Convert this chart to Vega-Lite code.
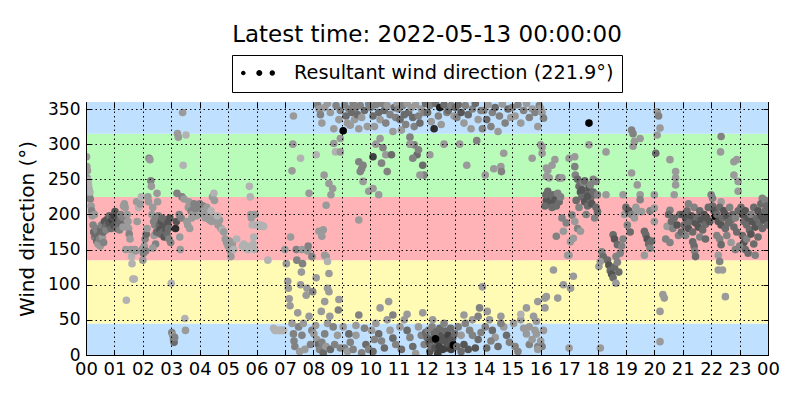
{
  "$schema": "https://vega.github.io/schema/vega-lite/v6.json",
  "width": 682,
  "height": 253,
  "autosize": "none",
  "padding": {"left": 86, "top": 102, "right": 32, "bottom": 45},
  "title": {
    "text": "Latest time: 2022-05-13 00:00:00",
    "fontSize": 23,
    "fontWeight": "normal",
    "anchor": "middle",
    "frame": "group",
    "baseline": "alphabetic",
    "offset": 12,
    "dy": 22,
    "color": "black"
  },
  "datasets": {
    "bands": [
      {"lo": 0, "hi": 45, "sector": "N"},
      {"lo": 45, "hi": 135, "sector": "E"},
      {"lo": 135, "hi": 225, "sector": "S"},
      {"lo": 225, "hi": 315, "sector": "W"},
      {"lo": 315, "hi": 360, "sector": "N"}
    ],
    "wind": [
      {"h":0.02,"d":282,"s":3},{"h":0.03,"d":268,"s":3},{"h":0.05,"d":262,"s":3},{"h":0.04,"d":252,"s":3},{"h":0.08,"d":248,"s":2},{"h":0.1,"d":236,"s":3},{"h":0.12,"d":228,"s":3},{"h":0.15,"d":222,"s":4},{"h":0.18,"d":212,"s":3},{"h":0.2,"d":205,"s":4},{"h":0.22,"d":198,"s":3},{"h":0.25,"d":185,"s":4},{"h":0.27,"d":175,"s":5},{"h":0.3,"d":168,"s":4},{"h":0.32,"d":172,"s":5},{"h":0.35,"d":180,"s":4},{"h":0.38,"d":162,"s":5},{"h":0.4,"d":176,"s":4},{"h":0.42,"d":158,"s":3},{"h":0.45,"d":170,"s":5},{"h":0.48,"d":165,"s":4},{"h":0.5,"d":155,"s":3},{"h":0.52,"d":178,"s":5},{"h":0.55,"d":185,"s":4},{"h":0.58,"d":168,"s":3},{"h":0.6,"d":175,"s":5},{"h":0.62,"d":160,"s":4},{"h":0.65,"d":190,"s":6},{"h":0.68,"d":182,"s":5},{"h":0.7,"d":178,"s":4},{"h":0.72,"d":192,"s":6},{"h":0.75,"d":186,"s":5},{"h":0.78,"d":194,"s":6},{"h":0.8,"d":190,"s":6},{"h":0.82,"d":198,"s":5},{"h":0.85,"d":185,"s":6},{"h":0.88,"d":180,"s":5},{"h":0.9,"d":188,"s":6},{"h":0.92,"d":192,"s":7},{"h":0.95,"d":196,"s":6},{"h":0.98,"d":184,"s":6},{"h":0.3,"d":200,"s":3},{"h":0.14,"d":232,"s":2},{"h":0.09,"d":242,"s":2},
      {"h":1.0,"d":198,"s":7},{"h":1.02,"d":204,"s":6},{"h":1.05,"d":188,"s":6},{"h":1.08,"d":180,"s":5},{"h":1.1,"d":190,"s":6},{"h":1.12,"d":195,"s":6},{"h":1.15,"d":186,"s":5},{"h":1.18,"d":178,"s":4},{"h":1.2,"d":192,"s":5},{"h":1.22,"d":200,"s":4},{"h":1.25,"d":185,"s":5},{"h":1.28,"d":196,"s":4},{"h":1.3,"d":182,"s":3},{"h":1.32,"d":212,"s":3},{"h":1.35,"d":215,"s":3},{"h":1.38,"d":210,"s":3},{"h":1.4,"d":150,"s":3},{"h":1.42,"d":78,"s":2},{"h":1.45,"d":200,"s":3},{"h":1.48,"d":190,"s":3},{"h":1.5,"d":180,"s":3},{"h":1.52,"d":172,"s":4},{"h":1.55,"d":165,"s":3},{"h":1.58,"d":150,"s":3},{"h":1.6,"d":140,"s":2},{"h":1.62,"d":130,"s":2},{"h":1.65,"d":108,"s":2},{"h":1.7,"d":108,"s":2},{"h":1.72,"d":150,"s":3},{"h":1.75,"d":148,"s":3},{"h":1.78,"d":218,"s":3},{"h":1.8,"d":190,"s":3},{"h":1.85,"d":210,"s":2},{"h":1.9,"d":215,"s":3},{"h":1.95,"d":225,"s":2},{"h":1.98,"d":150,"s":3},
      {"h":2.0,"d":135,"s":3},{"h":2.02,"d":145,"s":4},{"h":2.05,"d":155,"s":3},{"h":2.08,"d":165,"s":4},{"h":2.1,"d":148,"s":4},{"h":2.12,"d":172,"s":5},{"h":2.15,"d":180,"s":3},{"h":2.18,"d":225,"s":3},{"h":2.2,"d":218,"s":3},{"h":2.22,"d":280,"s":4},{"h":2.25,"d":278,"s":3},{"h":2.28,"d":248,"s":4},{"h":2.3,"d":240,"s":3},{"h":2.32,"d":200,"s":3},{"h":2.35,"d":210,"s":3},{"h":2.38,"d":190,"s":4},{"h":2.4,"d":170,"s":3},{"h":2.42,"d":185,"s":4},{"h":2.45,"d":195,"s":4},{"h":2.48,"d":175,"s":5},{"h":2.5,"d":230,"s":3},{"h":2.52,"d":218,"s":3},{"h":2.55,"d":198,"s":4},{"h":2.58,"d":185,"s":5},{"h":2.6,"d":178,"s":6},{"h":2.62,"d":172,"s":5},{"h":2.65,"d":190,"s":6},{"h":2.68,"d":195,"s":5},{"h":2.7,"d":182,"s":6},{"h":2.72,"d":175,"s":5},{"h":2.75,"d":168,"s":6},{"h":2.78,"d":185,"s":6},{"h":2.8,"d":192,"s":5},{"h":2.82,"d":178,"s":6},{"h":2.85,"d":172,"s":5},{"h":2.88,"d":188,"s":6},{"h":2.9,"d":180,"s":5},{"h":2.92,"d":165,"s":4},{"h":2.95,"d":195,"s":6},{"h":2.98,"d":160,"s":4},{"h":2.45,"d":158,"s":4},{"h":2.35,"d":152,"s":3},
      {"h":3.0,"d":102,"s":2},{"h":3.02,"d":32,"s":4},{"h":3.05,"d":28,"s":3},{"h":3.08,"d":22,"s":4},{"h":3.1,"d":18,"s":5},{"h":3.12,"d":25,"s":4},{"h":3.15,"d":180,"s":8},{"h":3.18,"d":190,"s":6},{"h":3.2,"d":230,"s":4},{"h":3.22,"d":315,"s":3},{"h":3.25,"d":310,"s":3},{"h":3.28,"d":200,"s":4},{"h":3.3,"d":168,"s":3},{"h":3.32,"d":150,"s":3},{"h":3.35,"d":195,"s":4},{"h":3.38,"d":225,"s":4},{"h":3.4,"d":345,"s":3},{"h":3.42,"d":270,"s":2},{"h":3.45,"d":222,"s":3},{"h":3.48,"d":52,"s":2},{"h":3.5,"d":35,"s":3},{"h":3.52,"d":313,"s":2},{"h":3.55,"d":190,"s":3},{"h":3.58,"d":185,"s":3},{"h":3.6,"d":210,"s":3},{"h":3.62,"d":218,"s":3},{"h":3.65,"d":180,"s":3},{"h":3.7,"d":205,"s":4},{"h":3.72,"d":195,"s":3},{"h":3.75,"d":200,"s":3},{"h":3.8,"d":215,"s":4},{"h":3.85,"d":208,"s":4},{"h":3.9,"d":198,"s":3},{"h":3.95,"d":210,"s":4},
      {"h":4.0,"d":215,"s":4},{"h":4.05,"d":208,"s":4},{"h":4.1,"d":200,"s":3},{"h":4.12,"d":212,"s":4},{"h":4.15,"d":205,"s":3},{"h":4.2,"d":195,"s":3},{"h":4.25,"d":210,"s":3},{"h":4.3,"d":200,"s":3},{"h":4.35,"d":192,"s":3},{"h":4.4,"d":205,"s":2},{"h":4.45,"d":225,"s":3},{"h":4.5,"d":230,"s":2},{"h":4.52,"d":220,"s":3},{"h":4.55,"d":195,"s":3},{"h":4.6,"d":190,"s":3},{"h":4.65,"d":185,"s":3},{"h":4.7,"d":192,"s":3},{"h":4.75,"d":180,"s":3},{"h":4.8,"d":178,"s":2},{"h":4.85,"d":175,"s":3},{"h":4.9,"d":165,"s":3},{"h":4.95,"d":160,"s":3},{"h":4.42,"d":190,"s":3},{"h":4.62,"d":198,"s":2},
      {"h":5.0,"d":155,"s":3},{"h":5.05,"d":162,"s":3},{"h":5.08,"d":148,"s":3},{"h":5.1,"d":140,"s":3},{"h":5.15,"d":158,"s":3},{"h":5.2,"d":150,"s":2},{"h":5.3,"d":165,"s":2},{"h":5.5,"d":155,"s":2},{"h":5.55,"d":158,"s":2},{"h":5.6,"d":152,"s":2},{"h":5.65,"d":155,"s":2},{"h":5.7,"d":150,"s":2},{"h":5.75,"d":240,"s":2},{"h":5.78,"d":225,"s":2},{"h":5.8,"d":200,"s":3},{"h":5.82,"d":195,"s":3},{"h":5.85,"d":185,"s":2},{"h":5.88,"d":158,"s":2},{"h":5.9,"d":168,"s":2},{"h":5.92,"d":150,"s":2},{"h":5.95,"d":200,"s":3},
      {"h":6.0,"d":185,"s":2},{"h":6.05,"d":185,"s":2},{"h":6.1,"d":183,"s":2},{"h":6.15,"d":185,"s":2},{"h":6.2,"d":184,"s":2},{"h":6.25,"d":183,"s":2},{"h":6.4,"d":135,"s":2},{"h":6.6,"d":38,"s":2},{"h":6.65,"d":35,"s":2},{"h":6.7,"d":35,"s":2},{"h":6.75,"d":35,"s":2},{"h":6.8,"d":35,"s":2},{"h":6.85,"d":35,"s":2},{"h":6.9,"d":35,"s":2},{"h":6.95,"d":35,"s":2},
      {"h":7.0,"d":150,"s":3},{"h":7.05,"d":130,"s":3},{"h":7.1,"d":105,"s":3},{"h":7.12,"d":95,"s":3},{"h":7.15,"d":80,"s":3},{"h":7.18,"d":70,"s":3},{"h":7.2,"d":168,"s":3},{"h":7.25,"d":262,"s":3},{"h":7.28,"d":300,"s":3},{"h":7.3,"d":340,"s":3},{"h":7.32,"d":20,"s":4},{"h":7.35,"d":12,"s":4},{"h":7.4,"d":150,"s":4},{"h":7.42,"d":135,"s":4},{"h":7.45,"d":60,"s":3},{"h":7.48,"d":40,"s":4},{"h":7.52,"d":5,"s":3},{"h":7.55,"d":100,"s":3},{"h":7.58,"d":118,"s":3},{"h":7.6,"d":150,"s":3},{"h":7.62,"d":130,"s":4},{"h":7.65,"d":45,"s":3},{"h":7.7,"d":8,"s":3},{"h":7.75,"d":85,"s":3},{"h":7.78,"d":95,"s":3},{"h":7.8,"d":148,"s":3},{"h":7.82,"d":155,"s":4},{"h":7.85,"d":55,"s":3},{"h":7.9,"d":15,"s":4},{"h":7.95,"d":140,"s":4},{"h":7.98,"d":90,"s":4},{"h":7.55,"d":280,"s":2},{"h":7.85,"d":230,"s":3},{"h":7.3,"d":30,"s":4},{"h":7.6,"d":28,"s":4},{"h":7.95,"d":35,"s":4},{"h":7.25,"d":45,"s":3},
      {"h":8.02,"d":30,"s":3},{"h":8.08,"d":42,"s":3},{"h":8.12,"d":22,"s":3},{"h":8.18,"d":15,"s":5},{"h":8.22,"d":8,"s":4},{"h":8.3,"d":18,"s":4},{"h":8.35,"d":3,"s":5},{"h":8.45,"d":12,"s":3},{"h":8.5,"d":45,"s":3},{"h":8.6,"d":8,"s":5},{"h":8.7,"d":40,"s":4},{"h":8.75,"d":15,"s":4},{"h":8.85,"d":28,"s":3},{"h":8.95,"d":10,"s":4},{"h":8.58,"d":55,"s":3},{"h":8.28,"d":62,"s":3},{"h":8.4,"d":30,"s":4},
      {"h":8.1,"d":110,"s":3},{"h":8.2,"d":176,"s":3},{"h":8.35,"d":178,"s":3},{"h":8.3,"d":169,"s":3},{"h":8.4,"d":142,"s":3},{"h":8.45,"d":140,"s":3},{"h":8.5,"d":133,"s":2},{"h":8.55,"d":116,"s":3},{"h":8.5,"d":95,"s":3},{"h":8.55,"d":90,"s":3},{"h":8.4,"d":76,"s":3},{"h":8.88,"d":64,"s":4},{"h":8.45,"d":213,"s":3},{"h":8.38,"d":256,"s":3},{"h":8.55,"d":244,"s":3},{"h":8.68,"d":237,"s":3},{"h":8.62,"d":228,"s":3},{"h":8.1,"d":285,"s":2},{"h":8.72,"d":301,"s":3},{"h":8.72,"d":322,"s":3},{"h":8.78,"d":289,"s":2},
      {"h":8.15,"d":356,"s":4},{"h":8.2,"d":350,"s":3},{"h":8.25,"d":342,"s":4},{"h":8.4,"d":352,"s":3},{"h":8.6,"d":345,"s":3},{"h":8.8,"d":355,"s":4},{"h":8.9,"d":335,"s":3},{"h":8.95,"d":348,"s":4},{"h":8.5,"d":358,"s":3},{"h":8.3,"d":330,"s":3},
      {"h":9.05,"d":40,"s":3},{"h":9.1,"d":10,"s":4},{"h":9.2,"d":5,"s":3},{"h":9.3,"d":18,"s":4},{"h":9.4,"d":8,"s":4},{"h":9.5,"d":42,"s":3},{"h":9.6,"d":57,"s":4},{"h":9.7,"d":3,"s":4},{"h":9.8,"d":38,"s":4},{"h":9.85,"d":15,"s":5},{"h":9.95,"d":8,"s":4},{"h":8.9,"d":79,"s":3},{"h":9.5,"d":28,"s":3},{"h":9.25,"d":30,"s":5},
      {"h":9.05,"d":319,"s":10},{"h":9.1,"d":356,"s":4},{"h":9.15,"d":340,"s":5},{"h":9.2,"d":330,"s":3},{"h":9.25,"d":350,"s":4},{"h":9.3,"d":327,"s":3},{"h":9.35,"d":345,"s":5},{"h":9.4,"d":358,"s":4},{"h":9.45,"d":335,"s":3},{"h":9.5,"d":352,"s":4},{"h":9.55,"d":342,"s":5},{"h":9.6,"d":322,"s":3},{"h":9.65,"d":355,"s":4},{"h":9.7,"d":338,"s":3},{"h":9.8,"d":348,"s":5},{"h":9.9,"d":325,"s":3},{"h":9.95,"d":357,"s":4},{"h":8.95,"d":308,"s":3},
      {"h":8.95,"d":289,"s":3},{"h":9.6,"d":275,"s":4},{"h":9.7,"d":265,"s":4},{"h":9.75,"d":247,"s":3},{"h":9.65,"d":261,"s":4},{"h":9.95,"d":233,"s":3},{"h":10.3,"d":228,"s":3},{"h":10.1,"d":282,"s":7},{"h":9.75,"d":270,"s":4},{"h":9.6,"d":192,"s":3},
      {"h":10.05,"d":35,"s":3},{"h":10.1,"d":5,"s":5},{"h":10.2,"d":45,"s":3},{"h":10.3,"d":30,"s":5},{"h":10.4,"d":20,"s":4},{"h":10.5,"d":10,"s":5},{"h":10.6,"d":50,"s":3},{"h":10.7,"d":35,"s":3},{"h":10.8,"d":24,"s":5},{"h":10.9,"d":15,"s":4},{"h":10.35,"d":67,"s":3},{"h":10.8,"d":57,"s":4},{"h":10.65,"d":76,"s":3},{"h":10.15,"d":22,"s":4},
      {"h":10.02,"d":352,"s":4},{"h":10.1,"d":340,"s":5},{"h":10.15,"d":325,"s":3},{"h":10.2,"d":356,"s":4},{"h":10.3,"d":345,"s":5},{"h":10.35,"d":335,"s":3},{"h":10.4,"d":358,"s":4},{"h":10.5,"d":348,"s":5},{"h":10.55,"d":330,"s":4},{"h":10.6,"d":355,"s":3},{"h":10.7,"d":342,"s":4},{"h":10.8,"d":318,"s":3},{"h":10.85,"d":352,"s":5},{"h":10.9,"d":338,"s":4},{"h":10.95,"d":357,"s":3},
      {"h":10.35,"d":308,"s":3},{"h":10.45,"d":295,"s":4},{"h":10.55,"d":285,"s":3},{"h":10.2,"d":300,"s":3},{"h":10.6,"d":261,"s":4},{"h":10.1,"d":237,"s":3},{"h":10.4,"d":273,"s":4},{"h":10.75,"d":285,"s":5},
      {"h":11.05,"d":40,"s":3},{"h":11.1,"d":8,"s":5},{"h":11.2,"d":50,"s":3},{"h":11.3,"d":35,"s":5},{"h":11.4,"d":25,"s":4},{"h":11.5,"d":12,"s":5},{"h":11.6,"d":2,"s":3},{"h":11.7,"d":40,"s":3},{"h":11.8,"d":28,"s":4},{"h":11.9,"d":15,"s":4},{"h":11.3,"d":58,"s":3},{"h":11.85,"d":60,"s":3},{"h":11.95,"d":32,"s":5},
      {"h":11.0,"d":350,"s":4},{"h":11.05,"d":335,"s":5},{"h":11.1,"d":320,"s":3},{"h":11.15,"d":355,"s":4},{"h":11.2,"d":342,"s":5},{"h":11.25,"d":328,"s":4},{"h":11.3,"d":358,"s":3},{"h":11.35,"d":345,"s":5},{"h":11.4,"d":310,"s":4},{"h":11.45,"d":352,"s":3},{"h":11.5,"d":338,"s":5},{"h":11.55,"d":325,"s":4},{"h":11.6,"d":356,"s":3},{"h":11.7,"d":340,"s":4},{"h":11.75,"d":330,"s":5},{"h":11.8,"d":350,"s":3},{"h":11.9,"d":345,"s":4},{"h":11.95,"d":358,"s":5},
      {"h":11.55,"d":299,"s":4},{"h":11.65,"d":285,"s":5},{"h":11.9,"d":256,"s":4},{"h":11.75,"d":256,"s":3},{"h":11.4,"d":300,"s":3},{"h":11.7,"d":292,"s":4},{"h":11.85,"d":270,"s":5},{"h":11.5,"d":280,"s":4},
      {"h":12.0,"d":25,"s":5},{"h":12.05,"d":35,"s":4},{"h":12.08,"d":18,"s":6},{"h":12.1,"d":5,"s":6},{"h":12.15,"d":12,"s":5},{"h":12.18,"d":40,"s":4},{"h":12.2,"d":22,"s":6},{"h":12.25,"d":30,"s":5},{"h":12.28,"d":10,"s":6},{"h":12.33,"d":33,"s":5},{"h":12.35,"d":20,"s":6},{"h":12.38,"d":2,"s":7},{"h":12.43,"d":12,"s":7},{"h":12.45,"d":38,"s":5},{"h":12.48,"d":22,"s":6},{"h":12.53,"d":28,"s":6},{"h":12.55,"d":8,"s":7},{"h":12.6,"d":20,"s":6},{"h":12.65,"d":34,"s":5},{"h":12.68,"d":10,"s":7},{"h":12.73,"d":16,"s":6},{"h":12.75,"d":28,"s":7},{"h":12.8,"d":20,"s":6},{"h":12.83,"d":38,"s":5},{"h":12.85,"d":8,"s":7},{"h":12.9,"d":24,"s":6},{"h":12.93,"d":14,"s":10},{"h":12.98,"d":30,"s":5},{"h":12.3,"d":23,"s":10},{"h":12.6,"d":45,"s":4},{"h":12.2,"d":50,"s":3},
      {"h":12.02,"d":345,"s":5},{"h":12.1,"d":355,"s":4},{"h":12.15,"d":332,"s":3},{"h":12.25,"d":322,"s":8},{"h":12.3,"d":358,"s":5},{"h":12.4,"d":340,"s":4},{"h":12.45,"d":352,"s":9},{"h":12.5,"d":328,"s":3},{"h":12.6,"d":356,"s":5},{"h":12.7,"d":345,"s":4},{"h":12.75,"d":348,"s":5},{"h":12.85,"d":355,"s":4},{"h":12.95,"d":340,"s":3},{"h":12.1,"d":285,"s":3},{"h":12.6,"d":300,"s":3},
      {"h":13.05,"d":12,"s":5},{"h":13.1,"d":40,"s":4},{"h":13.2,"d":5,"s":5},{"h":13.3,"d":15,"s":6},{"h":13.35,"d":45,"s":4},{"h":13.45,"d":8,"s":6},{"h":13.5,"d":35,"s":4},{"h":13.6,"d":50,"s":3},{"h":13.7,"d":10,"s":6},{"h":13.8,"d":22,"s":5},{"h":13.9,"d":32,"s":4},{"h":13.3,"d":57,"s":3},{"h":13.8,"d":55,"s":4},{"h":13.6,"d":28,"s":4},{"h":13.2,"d":28,"s":3},
      {"h":13.0,"d":352,"s":5},{"h":13.05,"d":338,"s":4},{"h":13.1,"d":356,"s":5},{"h":13.2,"d":345,"s":6},{"h":13.3,"d":330,"s":3},{"h":13.35,"d":355,"s":4},{"h":13.45,"d":342,"s":5},{"h":13.55,"d":322,"s":3},{"h":13.6,"d":350,"s":4},{"h":13.7,"d":358,"s":5},{"h":13.8,"d":335,"s":3},{"h":13.9,"d":348,"s":4},{"h":13.95,"d":322,"s":4},{"h":13.4,"d":270,"s":3},{"h":13.15,"d":300,"s":3},{"h":13.75,"d":305,"s":4},
      {"h":14.05,"d":40,"s":4},{"h":14.1,"d":10,"s":5},{"h":14.2,"d":50,"s":3},{"h":14.3,"d":35,"s":5},{"h":14.4,"d":25,"s":3},{"h":14.5,"d":12,"s":5},{"h":14.6,"d":55,"s":3},{"h":14.7,"d":40,"s":3},{"h":14.8,"d":28,"s":5},{"h":14.9,"d":18,"s":4},{"h":14.12,"d":62,"s":3},{"h":14.6,"d":45,"s":4},{"h":14.25,"d":20,"s":4},
      {"h":14.0,"d":348,"s":4},{"h":14.1,"d":335,"s":5},{"h":14.15,"d":356,"s":3},{"h":14.25,"d":325,"s":4},{"h":14.3,"d":345,"s":4},{"h":14.4,"d":352,"s":5},{"h":14.5,"d":318,"s":3},{"h":14.55,"d":340,"s":4},{"h":14.65,"d":357,"s":3},{"h":14.75,"d":330,"s":4},{"h":14.85,"d":350,"s":5},{"h":14.95,"d":338,"s":3},
      {"h":14.7,"d":287,"s":3},{"h":14.6,"d":268,"s":3},{"h":14.62,"d":261,"s":4},{"h":14.05,"d":256,"s":3},{"h":14.35,"d":265,"s":3},{"h":13.95,"d":97,"s":3},{"h":13.85,"d":67,"s":4},
      {"h":15.05,"d":45,"s":3},{"h":15.1,"d":12,"s":4},{"h":15.2,"d":5,"s":4},{"h":15.3,"d":50,"s":3},{"h":15.4,"d":38,"s":3},{"h":15.5,"d":30,"s":3},{"h":15.6,"d":15,"s":4},{"h":15.7,"d":22,"s":3},{"h":15.8,"d":35,"s":3},{"h":15.9,"d":12,"s":4},{"h":15.5,"d":67,"s":3},{"h":15.3,"d":58,"s":2},{"h":15.85,"d":48,"s":3},
      {"h":15.0,"d":352,"s":4},{"h":15.1,"d":340,"s":3},{"h":15.2,"d":356,"s":4},{"h":15.3,"d":330,"s":3},{"h":15.4,"d":348,"s":4},{"h":15.5,"d":358,"s":3},{"h":15.6,"d":338,"s":4},{"h":15.7,"d":350,"s":3},{"h":15.8,"d":345,"s":4},{"h":15.9,"d":325,"s":3},{"h":15.95,"d":355,"s":4},
      {"h":16.05,"d":296,"s":3},{"h":16.05,"d":287,"s":3},{"h":16.2,"d":266,"s":3},{"h":16.2,"d":254,"s":3},{"h":16.2,"d":83,"s":3},{"h":15.7,"d":280,"s":3},
      {"h":16.0,"d":351,"s":3},{"h":16.05,"d":345,"s":3},{"h":16.1,"d":337,"s":4},{"h":16.0,"d":299,"s":3},{"h":16.5,"d":278,"s":3},{"h":16.4,"d":270,"s":3},{"h":16.25,"d":263,"s":3},{"h":16.3,"d":252,"s":3},{"h":16.65,"d":252,"s":4},{"h":16.75,"d":252,"s":3},{"h":16.25,"d":233,"s":5},{"h":16.3,"d":225,"s":5},{"h":16.35,"d":215,"s":6},{"h":16.4,"d":210,"s":5},{"h":16.45,"d":228,"s":5},{"h":16.5,"d":220,"s":6},{"h":16.55,"d":212,"s":5},{"h":16.6,"d":230,"s":4},{"h":16.65,"d":218,"s":5},{"h":16.7,"d":225,"s":4},{"h":16.2,"d":220,"s":6},{"h":16.15,"d":212,"s":5},{"h":16.18,"d":228,"s":5},{"h":16.75,"d":195,"s":4},{"h":16.9,"d":188,"s":4},{"h":16.8,"d":176,"s":3},{"h":16.55,"d":169,"s":4},{"h":17.05,"d":161,"s":3},{"h":16.95,"d":142,"s":3},{"h":16.45,"d":121,"s":3},{"h":16.8,"d":100,"s":3},{"h":16.15,"d":81,"s":3},{"h":16.6,"d":81,"s":3},{"h":15.9,"d":76,"s":3},{"h":16.15,"d":67,"s":3},{"h":15.75,"d":55,"s":3},{"h":15.6,"d":40,"s":3},{"h":15.85,"d":30,"s":3},{"h":16.0,"d":20,"s":3},{"h":16.05,"d":12,"s":4},{"h":15.9,"d":8,"s":3},{"h":16.1,"d":35,"s":3},
      {"h":17.7,"d":330,"s":10},{"h":17.7,"d":299,"s":3},{"h":17.2,"d":282,"s":3},{"h":17.0,"d":280,"s":3},{"h":17.2,"d":268,"s":4},{"h":17.22,"d":256,"s":4},{"h":17.3,"d":250,"s":5},{"h":17.35,"d":240,"s":5},{"h":17.4,"d":232,"s":6},{"h":17.45,"d":225,"s":5},{"h":17.5,"d":245,"s":4},{"h":17.55,"d":218,"s":6},{"h":17.6,"d":230,"s":5},{"h":17.65,"d":212,"s":5},{"h":17.7,"d":238,"s":6},{"h":17.75,"d":222,"s":5},{"h":17.8,"d":215,"s":6},{"h":17.85,"d":250,"s":4},{"h":17.9,"d":228,"s":5},{"h":17.95,"d":210,"s":5},{"h":17.25,"d":220,"s":5},{"h":17.35,"d":210,"s":4},{"h":17.45,"d":235,"s":6},{"h":17.55,"d":248,"s":5},{"h":17.65,"d":226,"s":6},{"h":17.75,"d":242,"s":4},{"h":17.85,"d":232,"s":5},{"h":17.1,"d":199,"s":4},{"h":17.2,"d":190,"s":3},{"h":17.3,"d":180,"s":4},{"h":17.4,"d":176,"s":3},{"h":17.15,"d":166,"s":3},{"h":17.0,"d":142,"s":3},{"h":17.15,"d":112,"s":3},{"h":17.05,"d":95,"s":3},{"h":17.0,"d":10,"s":3},{"h":17.6,"d":200,"s":4},{"h":17.9,"d":195,"s":4},
      {"h":18.3,"d":289,"s":3},{"h":17.95,"d":247,"s":4},{"h":18.0,"d":228,"s":4},{"h":18.3,"d":228,"s":3},{"h":18.0,"d":204,"s":5},{"h":18.55,"d":171,"s":5},{"h":18.6,"d":165,"s":6},{"h":18.7,"d":157,"s":5},{"h":18.15,"d":147,"s":4},{"h":18.2,"d":140,"s":5},{"h":18.35,"d":135,"s":5},{"h":18.4,"d":128,"s":6},{"h":18.45,"d":120,"s":5},{"h":18.5,"d":115,"s":6},{"h":18.55,"d":110,"s":5},{"h":18.6,"d":125,"s":5},{"h":18.65,"d":140,"s":4},{"h":18.7,"d":132,"s":4},{"h":18.75,"d":118,"s":5},{"h":18.8,"d":145,"s":4},{"h":18.1,"d":133,"s":3},{"h":18.05,"d":126,"s":3},{"h":18.65,"d":102,"s":3},{"h":18.1,"d":10,"s":3},{"h":18.85,"d":155,"s":4},{"h":18.9,"d":165,"s":4},{"h":18.95,"d":200,"s":3},
      {"h":19.2,"d":320,"s":4},{"h":19.25,"d":315,"s":4},{"h":19.3,"d":304,"s":3},{"h":19.5,"d":308,"s":3},{"h":19.25,"d":297,"s":3},{"h":19.2,"d":259,"s":3},{"h":19.4,"d":242,"s":3},{"h":18.9,"d":228,"s":3},{"h":19.5,"d":228,"s":3},{"h":19.5,"d":221,"s":4},{"h":19.0,"d":210,"s":5},{"h":19.1,"d":205,"s":6},{"h":19.2,"d":200,"s":4},{"h":19.3,"d":195,"s":3},{"h":19.4,"d":204,"s":3},{"h":19.55,"d":204,"s":3},{"h":19.65,"d":176,"s":5},{"h":19.7,"d":171,"s":5},{"h":19.75,"d":165,"s":6},{"h":19.8,"d":158,"s":5},{"h":19.85,"d":152,"s":4},{"h":19.9,"d":162,"s":5},{"h":19.65,"d":142,"s":3},{"h":19.05,"d":185,"s":4},{"h":19.15,"d":175,"s":5},{"h":19.35,"d":210,"s":3},{"h":19.85,"d":205,"s":4},
      {"h":20.1,"d":346,"s":3},{"h":20.15,"d":340,"s":4},{"h":20.2,"d":323,"s":3},{"h":20.1,"d":313,"s":3},{"h":20.05,"d":287,"s":5},{"h":20.55,"d":278,"s":3},{"h":20.75,"d":261,"s":3},{"h":20.75,"d":252,"s":3},{"h":20.75,"d":242,"s":3},{"h":20.0,"d":228,"s":3},{"h":20.7,"d":228,"s":3},{"h":20.0,"d":209,"s":3},{"h":20.55,"d":206,"s":4},{"h":20.0,"d":190,"s":3},{"h":20.45,"d":183,"s":3},{"h":20.5,"d":200,"s":5},{"h":20.6,"d":190,"s":5},{"h":20.65,"d":180,"s":4},{"h":20.7,"d":195,"s":5},{"h":20.8,"d":185,"s":6},{"h":20.85,"d":170,"s":4},{"h":20.9,"d":200,"s":5},{"h":20.95,"d":175,"s":5},{"h":20.4,"d":165,"s":4},{"h":20.55,"d":160,"s":4},{"h":20.3,"d":86,"s":3},{"h":20.35,"d":81,"s":3},{"h":20.2,"d":62,"s":3},{"h":20.2,"d":19,"s":3},
      {"h":21.0,"d":200,"s":6},{"h":21.05,"d":185,"s":5},{"h":21.1,"d":195,"s":6},{"h":21.15,"d":205,"s":5},{"h":21.2,"d":180,"s":6},{"h":21.25,"d":190,"s":5},{"h":21.3,"d":198,"s":6},{"h":21.35,"d":175,"s":5},{"h":21.4,"d":210,"s":4},{"h":21.45,"d":188,"s":6},{"h":21.5,"d":196,"s":5},{"h":21.55,"d":182,"s":6},{"h":21.6,"d":205,"s":5},{"h":21.65,"d":192,"s":6},{"h":21.7,"d":178,"s":5},{"h":21.75,"d":200,"s":6},{"h":21.8,"d":186,"s":5},{"h":21.85,"d":195,"s":6},{"h":21.9,"d":210,"s":5},{"h":21.95,"d":190,"s":6},{"h":21.35,"d":161,"s":5},{"h":21.4,"d":155,"s":5},{"h":21.42,"d":148,"s":4},{"h":21.45,"d":140,"s":5},{"h":21.1,"d":170,"s":4},{"h":21.6,"d":168,"s":4},{"h":21.2,"d":215,"s":4},{"h":21.8,"d":165,"s":5},
      {"h":22.35,"d":311,"s":4},{"h":22.33,"d":289,"s":3},{"h":22.0,"d":228,"s":4},{"h":22.05,"d":223,"s":4},{"h":22.35,"d":218,"s":3},{"h":22.05,"d":212,"s":5},{"h":22.1,"d":205,"s":6},{"h":22.15,"d":197,"s":10},{"h":22.2,"d":200,"s":5},{"h":22.25,"d":190,"s":6},{"h":22.3,"d":210,"s":5},{"h":22.35,"d":185,"s":6},{"h":22.4,"d":195,"s":5},{"h":22.45,"d":205,"s":6},{"h":22.5,"d":180,"s":5},{"h":22.55,"d":198,"s":6},{"h":22.6,"d":188,"s":5},{"h":22.65,"d":210,"s":4},{"h":22.7,"d":192,"s":5},{"h":22.75,"d":200,"s":5},{"h":22.8,"d":182,"s":5},{"h":22.85,"d":195,"s":4},{"h":22.9,"d":175,"s":5},{"h":22.95,"d":205,"s":5},{"h":22.2,"d":170,"s":4},{"h":22.3,"d":165,"s":4},{"h":22.35,"d":157,"s":5},{"h":22.25,"d":142,"s":3},{"h":22.3,"d":133,"s":4},{"h":22.25,"d":121,"s":3},{"h":22.4,"d":121,"s":3},{"h":22.5,"d":83,"s":3},{"h":22.55,"d":170,"s":4},{"h":22.7,"d":160,"s":3},{"h":22.85,"d":150,"s":4},
      {"h":22.9,"d":278,"s":3},{"h":22.8,"d":275,"s":3},{"h":22.8,"d":256,"s":3},{"h":22.95,"d":247,"s":3},{"h":22.95,"d":233,"s":3},{"h":23.8,"d":223,"s":4},{"h":23.05,"d":210,"s":5},{"h":23.1,"d":200,"s":6},{"h":23.15,"d":190,"s":5},{"h":23.2,"d":205,"s":6},{"h":23.25,"d":185,"s":5},{"h":23.3,"d":195,"s":6},{"h":23.35,"d":178,"s":5},{"h":23.4,"d":200,"s":4},{"h":23.45,"d":190,"s":6},{"h":23.5,"d":210,"s":5},{"h":23.55,"d":182,"s":6},{"h":23.6,"d":195,"s":5},{"h":23.65,"d":205,"s":6},{"h":23.7,"d":188,"s":5},{"h":23.75,"d":198,"s":6},{"h":23.8,"d":180,"s":5},{"h":23.85,"d":192,"s":6},{"h":23.9,"d":205,"s":5},{"h":23.95,"d":195,"s":6},{"h":23.98,"d":185,"s":5},{"h":23.1,"d":170,"s":5},{"h":23.15,"d":160,"s":6},{"h":23.2,"d":150,"s":5},{"h":23.25,"d":165,"s":4},{"h":23.3,"d":145,"s":5},{"h":23.4,"d":172,"s":6},{"h":23.5,"d":158,"s":5},{"h":23.55,"d":142,"s":4},{"h":23.65,"d":168,"s":5},{"h":23.0,"d":155,"s":4},{"h":23.75,"d":215,"s":5},{"h":23.9,"d":220,"s":4},{"h":23.95,"d":212,"s":5}
    ]
  },
  "resolve": {"axis": {"x": "independent", "y": "independent"}},
  "layer": [
    {
      "data": {"name": "bands"},
      "mark": {"type": "rect"},
      "encoding": {
        "x": {"datum": 0, "type": "quantitative", "axis": {"orient": "top", "labels": false, "grid": false, "domain": false, "tickSize": -5, "title": null, "values": [0,1,2,3,4,5,6,7,8,9,10,11,12,13,14,15,16,17,18,19,20,21,22,23,24], "zindex": 1}},
        "x2": {"datum": 24},
        "y": {"field": "lo", "type": "quantitative", "axis": {"orient": "right", "labels": false, "grid": false, "domain": false, "tickSize": -5, "title": null, "values": [0,50,100,150,200,250,300,350], "zindex": 1}},
        "y2": {"field": "hi"},
        "fill": {"field": "sector", "type": "nominal", "scale": {"domain": ["N","E","S","W"], "range": ["#bfe1ff","#fffbb5","#ffb3b6","#b9fcb9"]}, "legend": null}
      }
    },
    {
      "data": {"name": "wind"},
      "mark": {"type": "circle", "size": 58, "opacity": 1, "clip": true},
      "encoding": {
        "x": {
          "field": "h", "type": "quantitative",
          "scale": {"domain": [0, 24], "nice": false, "zero": false},
          "axis": {
            "orient": "bottom", "title": null, "values": [0,1,2,3,4,5,6,7,8,9,10,11,12,13,14,15,16,17,18,19,20,21,22,23,24],
            "labelExpr": "datum.value == 24 ? '00' : (datum.value < 10 ? '0' + datum.value : '' + datum.value)",
            "grid": true, "tickSize": -5, "labelPadding": 10, "labelFontSize": 18, "labelFlush": false, "labelOverlap": false, "zindex": 1
          }
        },
        "y": {
          "field": "d", "type": "quantitative",
          "scale": {"domain": [0, 360], "nice": false},
          "axis": {
            "orient": "left", "title": "Wind direction (°)", "values": [0,50,100,150,200,250,300,350],
            "grid": true, "tickSize": -5, "labelPadding": 11, "labelFontSize": 17, "labelFlush": false, "labelOverlap": false,
            "titleFontSize": 20, "titleFontWeight": "normal", "titlePadding": 10, "zindex": 1
          }
        },
        "color": {"field": "s", "type": "quantitative", "scale": {"domain": [2, 10], "range": ["#b2b2b2", "#000000"], "clamp": true}, "legend": null}
      }
    },
    {
      "data": {"values": []},
      "mark": {"type": "point", "filled": true, "opacity": 1, "color": "black"},
      "encoding": {
        "shape": {
          "datum": "Resultant wind direction (221.9°)",
          "type": "nominal",
          "scale": {"range": ["M-0.9,0a0.23,0.23 0 1,0 0.46,0a0.23,0.23 0 1,0 -0.46,0ZM0.63,0a0.3,0.3 0 1,0 0.6,0a0.3,0.3 0 1,0 -0.6,0ZM1.96,0a0.27,0.27 0 1,0 0.54,0a0.27,0.27 0 1,0 -0.54,0Z"]},
          "legend": {
            "orient": "none", "legendX": 146, "legendY": -47, "title": null,
            "labelFontSize": 19.3, "labelColor": "black", "labelOffset": 34, "labelLimit": 0,
            "symbolSize": 400, "symbolStrokeWidth": 0, "symbolFillColor": "black",
            "strokeColor": "black", "fillColor": "white", "padding": 8
          }
        }
      }
    }
  ],
  "config": {
    "font": "DejaVu Sans",
    "view": {"stroke": "black", "strokeWidth": 1},
    "axis": {
      "domainColor": "black", "tickColor": "black", "labelColor": "black", "titleColor": "black",
      "gridColor": "black", "gridDash": [1.5, 3], "gridOpacity": 1, "gridWidth": 1, "tickWidth": 1
    }
  }
}
